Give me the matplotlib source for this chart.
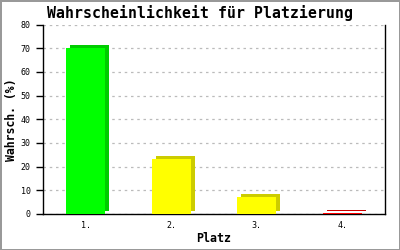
import matplotlib
matplotlib.use("Agg")
import matplotlib.pyplot as plt
import matplotlib.transforms as mtransforms

places = ["1.", "2.", "3.", "4."]
probs = [70.3, 23.0, 7.3, 0.5]
front_colors = ["#00FF00", "#FFFF00", "#FFFF00", "#FF0000"]
side_colors = ["#00CC00", "#CCCC00", "#CCCC00", "#CC0000"]
y_ticks = [0, 10, 20, 30, 40, 50, 60, 70, 80]

MONO = ["DejaVu Sans Mono", "Liberation Mono"]

fig = plt.figure(figsize=(4.0, 2.5), dpi=100)
fig.patch.set_facecolor("white")
fig.patch.set_edgecolor("#999999")
fig.patch.set_linewidth(2)
ax = fig.add_axes([0.1075, 0.145, 0.855, 0.756])

x = list(range(len(places)))
width = 0.46

# 3D-ish depth: same bars in a darker colour, shifted right/up a few pixels
shift = mtransforms.offset_copy(ax.transData, fig=fig, x=4, y=3, units="dots")
ax.bar(x, probs, width=width, color=side_colors, transform=shift, zorder=2,
       linewidth=0)
ax.bar(x, probs, width=width, color=front_colors, zorder=3, linewidth=0)

ax.set_xlim(-0.5, 3.5)
ax.set_ylim(0, 80)
ax.set_yticks(y_ticks)
ax.set_xticks(x)
ax.set_xticklabels(places)
ax.grid(axis="y", color="#BBBBBB", linestyle=(0, (2, 3)), linewidth=0.9, zorder=0)
ax.set_axisbelow(True)

for s in ["left", "bottom", "right"]:
    ax.spines[s].set_linewidth(1.0)
    ax.spines[s].set_color("black")
ax.spines["top"].set_visible(False)

ax.tick_params(axis="y", length=5, width=1, direction="out", pad=4,
               labelsize=6)
ax.tick_params(axis="x", length=0, pad=5, labelsize=6)
for lbl in ax.get_xticklabels() + ax.get_yticklabels():
    lbl.set_family(MONO)

fig.text(0.5, 1 - 13 / 250, "Wahrscheinlichkeit für Platzierung", family=MONO,
         fontweight="bold", fontsize=10.7, ha="center", va="center")
fig.text(12 / 400, 1 - 120 / 250, "Wahrsch. (%)", family=MONO,
         fontweight="bold", fontsize=8.3, rotation=90, ha="center", va="center")
fig.text(214 / 400, 1 - 239 / 250, "Platz", family=MONO, fontweight="bold",
         fontsize=8.4, ha="center", va="center")

fig.savefig("out.png", dpi=100, facecolor=fig.get_facecolor(),
            edgecolor=fig.get_edgecolor())
